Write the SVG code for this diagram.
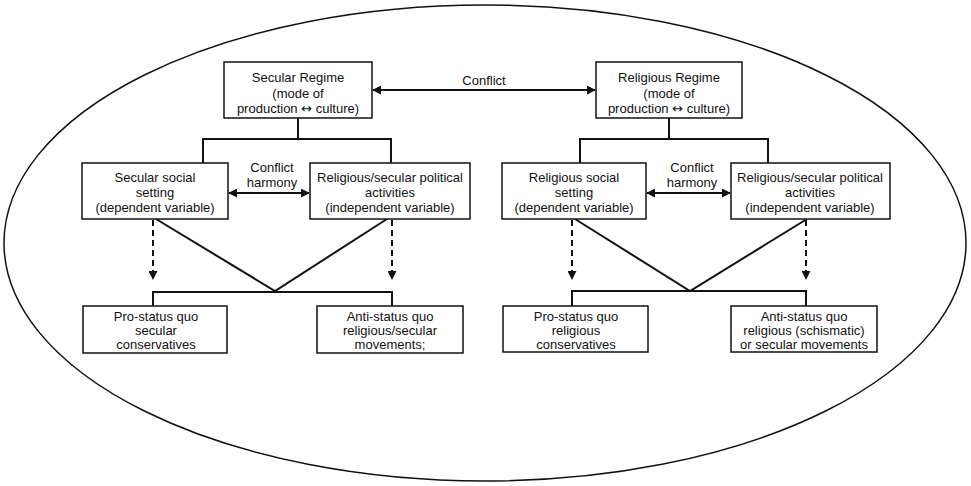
<svg xmlns="http://www.w3.org/2000/svg" width="971" height="486" viewBox="0 0 971 486">
<style>
.box{fill:#fff;stroke:#111;stroke-width:1.5}
.ln{fill:none;stroke:#111;stroke-width:2}
.dash{fill:none;stroke:#111;stroke-width:2;stroke-dasharray:6,4}
text{font-family:"Liberation Sans",Arial,sans-serif;font-size:13px;fill:#111;text-anchor:middle}
.sym{font-family:"DejaVu Sans",sans-serif;font-size:13px}
</style>
<defs>
<marker id="ah" viewBox="0 0 10 10" refX="9" refY="5" markerWidth="9" markerHeight="9" markerUnits="userSpaceOnUse" orient="auto-start-reverse">
<path d="M0,0 L10,5 L0,10 z" fill="#111"/>
</marker>
</defs>
<ellipse cx="485" cy="243" rx="481" ry="238" fill="none" stroke="#111" stroke-width="1.5"/>
<g id="connectors">
<line class="ln" x1="373" y1="90" x2="595" y2="90" marker-start="url(#ah)" marker-end="url(#ah)"/>
<text x="484" y="85">Conflict</text>
<polyline class="ln" points="298,118 298,139"/>
<polyline class="ln" points="203,163 203,139 391,139 391,163"/>
<polyline class="ln" points="669,118 669,139"/>
<polyline class="ln" points="580,163 580,139 768,139 768,163"/>
<line class="ln" x1="229" y1="193" x2="309" y2="193" marker-start="url(#ah)" marker-end="url(#ah)"/>
<text x="272" y="172">Conflict</text>
<text x="272" y="187">harmony</text>
<line class="ln" x1="647" y1="193" x2="730" y2="193" marker-start="url(#ah)" marker-end="url(#ah)"/>
<text x="692" y="172">Conflict</text>
<text x="692" y="187">harmony</text>
<line class="dash" x1="153" y1="220" x2="153" y2="279" marker-end="url(#ah)"/>
<line class="dash" x1="392" y1="220" x2="392" y2="279" marker-end="url(#ah)"/>
<line class="dash" x1="572" y1="220" x2="572" y2="279" marker-end="url(#ah)"/>
<line class="dash" x1="806" y1="220" x2="806" y2="279" marker-end="url(#ah)"/>
<polyline class="ln" points="156,219 275,291 387,219"/>
<polyline class="ln" points="575,219 690,291 807,219"/>
<polyline class="ln" points="153,306 153,292 392,292 392,306"/>
<polyline class="ln" points="572,306 572,291 806,291 806,306"/>
</g>
<g id="secular-regime">
<rect class="box" x="224" y="62" width="148" height="56"/>
<text x="298" y="82">Secular Regime</text>
<text x="298" y="98">(mode of</text>
<text x="298" y="113">production <tspan class="sym">↔</tspan> culture)</text>
</g>
<g id="religious-regime">
<rect class="box" x="596" y="62" width="146" height="56"/>
<text x="669" y="82">Religious Regime</text>
<text x="669" y="98">(mode of</text>
<text x="669" y="113">production <tspan class="sym">↔</tspan> culture)</text>
</g>
<g id="secular-social">
<rect class="box" x="82" y="163" width="146" height="56"/>
<text x="155" y="182">Secular social</text>
<text x="155" y="197">setting</text>
<text x="155" y="212">(dependent variable)</text>
</g>
<g id="secular-political">
<rect class="box" x="310" y="163" width="160" height="56"/>
<text x="390" y="182">Religious/secular political</text>
<text x="390" y="197">activities</text>
<text x="390" y="212">(independent variable)</text>
</g>
<g id="religious-social">
<rect class="box" x="502" y="163" width="144" height="56"/>
<text x="574" y="182">Religious social</text>
<text x="574" y="197">setting</text>
<text x="574" y="212">(dependent variable)</text>
</g>
<g id="religious-political">
<rect class="box" x="731" y="163" width="159" height="56"/>
<text x="810" y="182">Religious/secular political</text>
<text x="810" y="197">activities</text>
<text x="810" y="212">(independent variable)</text>
</g>
<g id="pro-secular">
<rect class="box" x="83" y="306" width="144" height="47"/>
<text x="156" y="321">Pro-status quo</text>
<text x="156" y="335">secular</text>
<text x="156" y="349">conservatives</text>
</g>
<g id="anti-secular">
<rect class="box" x="317" y="306" width="146" height="47"/>
<text x="390" y="321">Anti-status quo</text>
<text x="390" y="335">religious/secular</text>
<text x="390" y="349">movements;</text>
</g>
<g id="pro-religious">
<rect class="box" x="503" y="306" width="145" height="46"/>
<text x="576" y="321">Pro-status quo</text>
<text x="576" y="335">religious</text>
<text x="576" y="349">conservatives</text>
</g>
<g id="anti-religious">
<rect class="box" x="731" y="306" width="146" height="46"/>
<text x="804" y="321">Anti-status quo</text>
<text x="804" y="335">religious (schismatic)</text>
<text x="804" y="349">or secular movements</text>
</g>
</svg>
